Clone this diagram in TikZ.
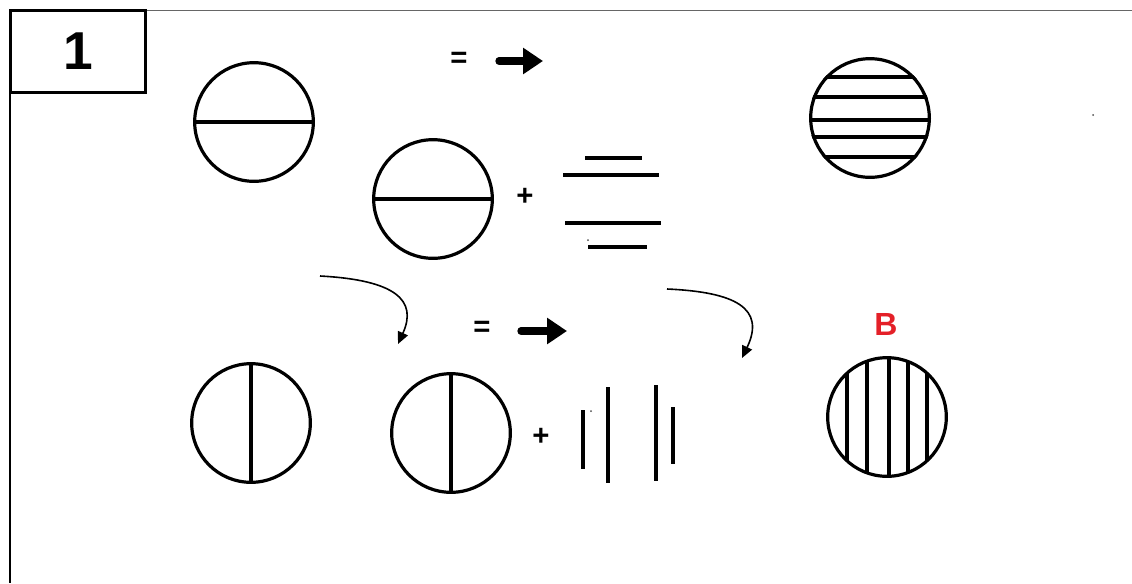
\documentclass[tikz,border=0pt]{standalone}
\usepackage{fontspec}
\setmainfont{Liberation Sans}
\usetikzlibrary{arrows.meta}
\definecolor{bred}{RGB}{228,32,40}
\begin{document}
\begin{tikzpicture}[x=0.75pt,y=-0.75pt,
  disc/.style={circle,draw,line width=2.4pt,minimum size=89pt,inner sep=0pt},
  hatch/.style={line width=2.4pt},
  bar/.style={line width=2.4pt},
  sym/.style={font=\bfseries\fontsize{22}{22}\selectfont,inner sep=0pt},
  bigarrow/.style={line width=5.5pt,line cap=round,-{Triangle[length=15pt,width=19pt]}},
  curvearrow/.style={line width=1.2pt,-{Triangle[length=9pt,width=8pt]}},
  speck/.style={fill=black!70,inner sep=0pt,minimum size=1.5pt,circle}]
\useasboundingbox (0,0) rectangle (1132,583);
% frame
\coordinate (ftl) at (147,10);
\coordinate (ftr) at (1132,10);
\coordinate (fbl) at (10,93);
\coordinate (fbb) at (10,583);
\draw[black!60,line width=0.7pt] (ftl) -- (ftr);
\draw[line width=1.2pt] (fbl) -- (fbb);
\node[draw,line width=2.4pt,minimum width=101pt,minimum height=61.5pt,inner sep=0pt,
      font=\bfseries\fontsize{40}{40}\selectfont] (box) at (78,51.5) {1};

% top row
\node[disc] (c1) at (254,122) {};
\draw[hatch] (c1.west) -- (c1.east);
\node[sym] (eq1) at (459,60) {=};
\coordinate (a1s) at (499,61);
\coordinate (a1e) at (543,61);
\draw[bigarrow] (a1s) -- (a1e);

\node[disc] (c2) at (433,199) {};
\draw[hatch] (c2.west) -- (c2.east);
\node[sym] (plus1) at (525,197) {+};
\coordinate (h1a) at (585,158); \coordinate (h1b) at (642,158);
\coordinate (h2a) at (563,175); \coordinate (h2b) at (659,175);
\coordinate (h3a) at (565,223); \coordinate (h3b) at (661,223);
\coordinate (h4a) at (588,247); \coordinate (h4b) at (647,247);
\draw[bar] (h1a) -- (h1b);
\draw[bar] (h2a) -- (h2b);
\draw[bar] (h3a) -- (h3b);
\draw[bar] (h4a) -- (h4b);
\node[speck] (sp1) at (588,240) {};

\node[disc] (c3) at (870,118) {};
\begin{scope}
  \clip (870,118) circle (61);
  \foreach \yy in {77,97,120,137,157} \draw[hatch] (800,\yy) -- (940,\yy);
\end{scope}
\node[speck] (sp2) at (1093,115) {};

% curved arrows
\coordinate (ca1s) at (320,276);
\coordinate (ca1e) at (398,344);
\draw[curvearrow] (ca1s) .. controls (395,280) and (418,300) .. (ca1e);
\coordinate (ca2s) at (667,289);
\coordinate (ca2e) at (742,358);
\draw[curvearrow] (ca2s) .. controls (735,292) and (766,308) .. (ca2e);

% bottom row
\node[sym] (eq2) at (482,329) {=};
\coordinate (a2s) at (521,331);
\coordinate (a2e) at (567,331);
\draw[bigarrow] (a2s) -- (a2e);

\node[disc] (d1) at (251,423) {};
\draw[hatch] (d1.north) -- (d1.south);
\node[disc] (d2) at (451,433) {};
\draw[hatch] (d2.north) -- (d2.south);
\node[sym] (plus2) at (541,437) {+};
\coordinate (v1a) at (583,410); \coordinate (v1b) at (583,469);
\coordinate (v2a) at (608,387); \coordinate (v2b) at (608,483);
\coordinate (v3a) at (656,385); \coordinate (v3b) at (656,481);
\coordinate (v4a) at (673,407); \coordinate (v4b) at (673,464);
\draw[bar] (v1a) -- (v1b);
\draw[bar] (v2a) -- (v2b);
\draw[bar] (v3a) -- (v3b);
\draw[bar] (v4a) -- (v4b);
\node[speck] (sp3) at (591,411) {};

\node[text=bred,font=\bfseries\fontsize{24}{24}\selectfont,inner sep=0pt] (B) at (886,324) {B};
\node[disc] (d3) at (887,417) {};
\begin{scope}
  \clip (887,417) circle (60);
  \foreach \xx in {847,867,889,908,927} \draw[hatch] (\xx,350) -- (\xx,485);
\end{scope}
\end{tikzpicture}
\end{document}
